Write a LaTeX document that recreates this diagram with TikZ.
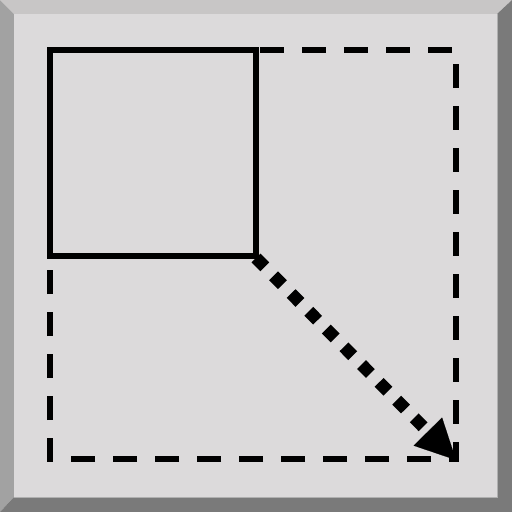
\documentclass[tikz,border=0pt]{standalone}
\usetikzlibrary{arrows.meta}
\definecolor{face}{RGB}{220,218,219}
\definecolor{bevtop}{RGB}{200,198,198}
\definecolor{bevleft}{RGB}{162,162,162}
\definecolor{bevdark}{RGB}{122,122,122}
\definecolor{bevedge}{RGB}{176,176,176}
\tikzset{
  solidbox/.style={draw=black,line width=6pt,line join=miter},
  dashbox/.style={draw=black,line width=6pt,dash pattern=on 24pt off 18pt},
  dotarrow/.style={draw=black,line width=12.5pt,dash pattern=on 12.5pt off 12.5pt,
    -{Triangle[length=40pt,width=40pt,line width=0.1pt]}}
}
\begin{document}
\begin{tikzpicture}[x=1pt,y=-1pt]
\useasboundingbox (0,0) rectangle (512,512);
% bevel frame
\fill[bevtop] (0,0) -- (512,0) -- (497,14) -- (14,14) -- cycle;
\fill[bevleft] (0,0) -- (14,14) -- (14,497) -- (0,512) -- cycle;
\fill[bevdark] (512,0) -- (512,512) -- (0,512) -- (14,497) -- (497,497) -- (497,14) -- cycle;
\fill[face] (14,14) rectangle (497,497);
\draw[bevedge,line width=1pt] (14,497.5) -- (497.5,497.5) -- (497.5,14);
% coordinates
\coordinate (a) at (50,50);
\coordinate (ar) at (456,50);
\coordinate (c) at (456,459);
\coordinate (al) at (50,459);
\coordinate (b) at (256,256);
\coordinate (s) at (256,258);
\coordinate (t) at (456,460);
% dashed rectangle, clockwise from the top left corner
\draw[dashbox] (a) -- (ar) -- (c) -- (al) -- cycle;
% solid square
\draw[solidbox] (a) rectangle (b);
% dotted arrow
\draw[dotarrow] (s) -- (t);
\end{tikzpicture}
\end{document}
